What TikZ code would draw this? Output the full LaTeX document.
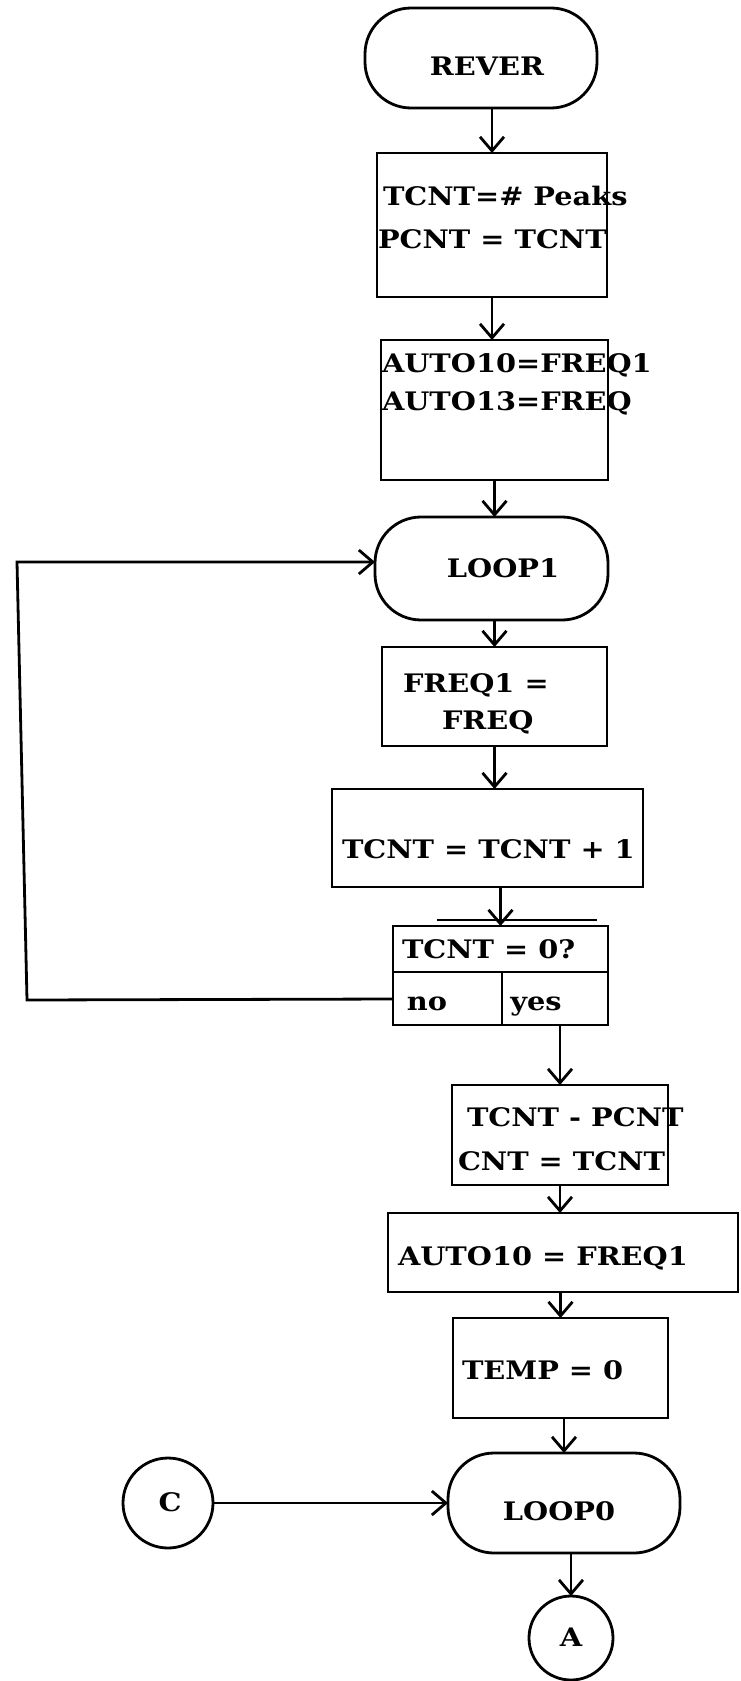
\documentclass[tikz,border=0pt]{standalone}
\usepackage{fontspec}
\setmainfont{DejaVu Serif}[FakeStretch=1.13]
\usetikzlibrary{arrows.meta}
\begin{document}
\begin{tikzpicture}[x=1pt,y=-1pt,
  box/.style={draw, line width=2.8pt, inner sep=0pt, outer sep=0pt},
  term/.style={box, rounded corners=46pt},
  conn/.style={box, circle},
  ln/.style={line width=2.8pt},
  txt/.style={anchor=base west, inner sep=0pt, outer sep=0pt, font=\bfseries\fontsize{25.5}{30}\selectfont},
  ctxt/.style={txt, anchor=base},
  arr/.style={line width=2.8pt, -{Straight Barb[length=14pt,width=24pt,line width=2.8pt]}},
]
\useasboundingbox (0,0) rectangle (741,1681);
% shapes
\node[term, minimum width=232pt, minimum height=100pt] (rever) at (481,58) {};
\node[box, minimum width=230pt, minimum height=144pt] (box1) at (492,225) {};
\node[box, minimum width=227pt, minimum height=140pt] (box2) at (494.5,410) {};
\node[term, minimum width=233pt, minimum height=103pt] (loop1) at (491.5,568.5) {};
\node[box, minimum width=225pt, minimum height=99pt] (freq) at (494.5,696.5) {};
\node[box, minimum width=311pt, minimum height=98pt] (inc) at (487.5,838) {};
\node[box, minimum width=215pt, minimum height=99pt] (dec) at (500.5,975.5) {};
\node[box, minimum width=216pt, minimum height=100pt] (tp) at (560,1135) {};
\node[box, minimum width=350pt, minimum height=79pt] (auto) at (563,1252.5) {};
\node[box, minimum width=215pt, minimum height=100pt] (temp) at (560.5,1368) {};
\node[term, minimum width=232pt, minimum height=100pt] (loop0) at (564,1503) {};
\node[conn, minimum size=90pt] (c) at (168,1503) {};
\node[conn, minimum size=84pt] (a) at (571,1638) {};
% decision dividers
\coordinate (dv) at (0,972);
\draw[ln] (dec.west |- dv) -- (dec.east |- dv);
\draw[ln] (502,972) -- (502,1025);
\draw[line width=1.8pt] (437,920) -- (597,920);
% texts
\node[ctxt] (trever) at (487,75.5) {REVER};
\node[txt] (t1a) at (383,205.5) {TCNT=\# Peaks};
\node[txt] (t1b) at (378,248.5) {PCNT = TCNT};
\node[txt] (t2a) at (382,372.5) {AUTO10=FREQ1};
\node[txt] (t2b) at (382,410.5) {AUTO13=FREQ};
\node[ctxt] (tloop1) at (503,577.5) {LOOP1};
\node[txt] (tfa) at (403,692.5) {FREQ1 =};
\node[txt] (tfb) at (442,729.5) {FREQ};
\node[txt] (tinc) at (342,858.5) {TCNT = TCNT + 1};
\node[txt] (tdec) at (402,958.5) {TCNT = 0?};
\node[ctxt] (tno) at (427,1010) {no};
\node[ctxt] (tyes) at (536,1010) {yes};
\node[txt] (ttpa) at (467,1126.5) {TCNT - PCNT};
\node[txt] (ttpb) at (458,1170.5) {CNT = TCNT};
\node[txt] (tauto) at (398,1265.5) {AUTO10 = FREQ1};
\node[txt] (ttemp) at (462,1379.5) {TEMP = 0};
\node[ctxt] (tloop0) at (559,1520.5) {LOOP0};
\node[ctxt] (tc) at (170,1511.5) {C};
\node[ctxt] (ta) at (571,1646.5) {A};
% connectors
\draw[arr] (box1.north |- rever.south) -- (box1.north);
\draw[arr] (box1.south) -- (box1.south |- box2.north);
\draw[arr] (box2.south) -- (box2.south |- loop1.north);
\draw[arr] (freq.north |- loop1.south) -- (freq.north);
\draw[arr] (freq.south) -- (freq.south |- inc.north);
\draw[arr] (dec.north |- inc.south) -- (dec.north);
\draw[arr] (tp.north |- dec.south) -- (tp.north);
\draw[arr] (tp.south) -- (tp.south |- auto.north);
\draw[arr] (temp.north |- auto.south) -- (temp.north);
\draw[arr] (loop0.north |- temp.south) -- (loop0.north);
\draw[arr] (a.north |- loop0.south) -- (a.north);
\draw[arr] (c.east) -- (loop0.west);
\coordinate (nol) at (393,999);
\coordinate (bl) at (27,1000);
\coordinate (tl) at (17,562);
\draw[arr] (nol) -- (bl) -- (tl) -- (loop1.west |- tl);
\end{tikzpicture}
\end{document}
